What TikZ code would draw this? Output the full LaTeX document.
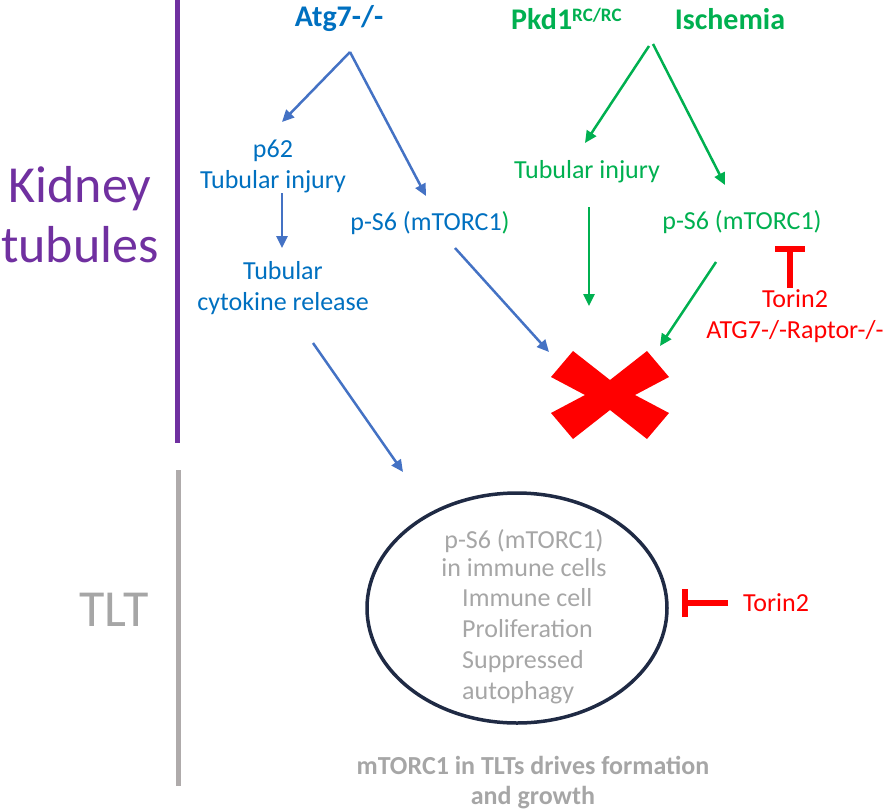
\documentclass[tikz,border=0pt]{standalone}
\usepackage{fontspec}
\setmainfont{Carlito}
\usetikzlibrary{arrows.meta,shapes.geometric}
\definecolor{purp}{HTML}{7030A0}
\definecolor{btxt}{HTML}{0070C0}
\definecolor{barr}{HTML}{4472C4}
\definecolor{grn}{HTML}{00B050}
\definecolor{rd}{HTML}{FF0000}
\definecolor{gtxt}{HTML}{A6A6A6}
\definecolor{gline}{HTML}{AFABAB}
\definecolor{navy}{HTML}{1F2A44}
\tikzset{
  txt/.style={inner sep=0pt, align=center, font=\fontsize{26}{31}\selectfont},
  head/.style={inner sep=0pt, font=\bfseries\fontsize{30}{36}\selectfont},
  big/.style={inner sep=0pt, align=center, font=\fontsize{52}{60}\selectfont},
  barrow/.style={draw=barr, line width=2.5pt, -{Triangle[length=12pt,width=11pt]}},
  garrow/.style={draw=grn, line width=2.5pt, -{Triangle[length=12pt,width=11pt]}},
  inhib/.style={draw=rd, line width=6pt},
}
\begin{document}
\begin{tikzpicture}[x=1pt,y=-1pt]
\useasboundingbox (0,0) rectangle (886,811);
% side bars and labels
\coordinate (pt) at (177,0);
\coordinate (pb) at (177,443);
\draw[purp, line width=5pt] (pt) -- (pb);
\coordinate (gt) at (178,470);
\coordinate (gb) at (178,786);
\draw[gline, line width=5pt] (gt) -- (gb);
\node[big, text=purp] (kid) at (80,215) {Kidney\\tubules};
\node[big, text=gtxt] (tlt) at (114,610) {TLT};
% headers
\node[head, text=btxt] (atg) at (339,19) {Atg7-/-};
\node[head, text=grn, anchor=west] (pkd) at (511,19) {Pkd1\raisebox{0.55ex}{\fontsize{19}{22}\selectfont RC/RC}};
\node[head, text=grn] (isch) at (730,19) {Ischemia};
% blue branch
\node[txt, text=btxt] (p62) at (273,166) {p62\\Tubular injury};
\node[txt, text=btxt] (cyto) at (283,288) {Tubular\\cytokine release};
\node[txt, text=btxt] (bps6) at (430,223) {p-S6 (mTORC1\textcolor{grn}{)}};
% green branch
\node[txt, text=grn] (gti) at (587,172) {Tubular injury};
\node[txt, text=grn] (gps6) at (742,222) {p-S6 (mTORC1)};
% red inhibitor top
\node[txt, text=rd] (tor1) at (795,316) {Torin2\\ATG7-/-Raptor-/-};
% blue arrows
\coordinate (bs) at (350,52);
\coordinate (b1) at (282,122);
\coordinate (b2) at (426,196);
\coordinate (b3s) at (282,193);
\coordinate (b3e) at (282,248);
\coordinate (b4s) at (455,248);
\coordinate (b4e) at (549,352);
\coordinate (b5s) at (313,343);
\coordinate (b5e) at (403,472);
\draw[barrow] (bs) -- (b1);
\draw[barrow] (bs) -- (b2);
\draw[barrow] (b3s) -- (b3e);
\draw[barrow] (b4s) -- (b4e);
\draw[barrow] (b5s) -- (b5e);
% green arrows
\coordinate (gs1) at (649,46);
\coordinate (gs2) at (653,44);
\coordinate (g1) at (585,143);
\coordinate (g2) at (725,185);
\coordinate (g3s) at (589,207);
\coordinate (g3e) at (589,306);
\coordinate (g4s) at (716,262);
\coordinate (g4e) at (660,346);
\draw[garrow] (gs1) -- (g1);
\draw[garrow] (gs2) -- (g2);
\draw[garrow] (g3s) -- (g3e);
\draw[garrow] (g4s) -- (g4e);
% top T bar
\coordinate (tbs) at (790,288);
\coordinate (tbar) at (790,246);
\draw[inhib, -{Bar[width=30pt]}] (tbs) -- (tbar);
% red X
\fill[rd] (573,351) -- (610,380) -- (647,351) -- (669,377) -- (635,395) -- (669,413)
  -- (647,439) -- (610,410) -- (573,439) -- (551,413) -- (585,395) -- (551,377) -- cycle;
% ellipse
\node[draw=navy, line width=3.5pt, ellipse, minimum width=300pt, minimum height=230pt, inner sep=0pt] (ell) at (517,608) {};
\node[txt, text=gtxt, font=\fontsize{26}{28}\selectfont] (e1) at (524,553) {p-S6 (mTORC1)\\in immune cells};
\node[txt, text=gtxt, align=left, anchor=west] (e2) at (462,646) {Immune cell\\Proliferation\\Suppressed\\autophagy};
% bottom torin
\node[txt, text=rd] (tor2) at (776,603) {Torin2};
\coordinate (t2s) at (728,603);
\coordinate (t2e) at (682,603);
\draw[inhib, -{Bar[width=28pt]}] (t2s) -- (t2e);
% bottom text
\node[txt, text=gtxt, font=\bfseries\fontsize{26}{30}\selectfont] (bot) at (533,783) {mTORC1 in TLTs drives formation\\and growth};
\end{tikzpicture}
\end{document}
